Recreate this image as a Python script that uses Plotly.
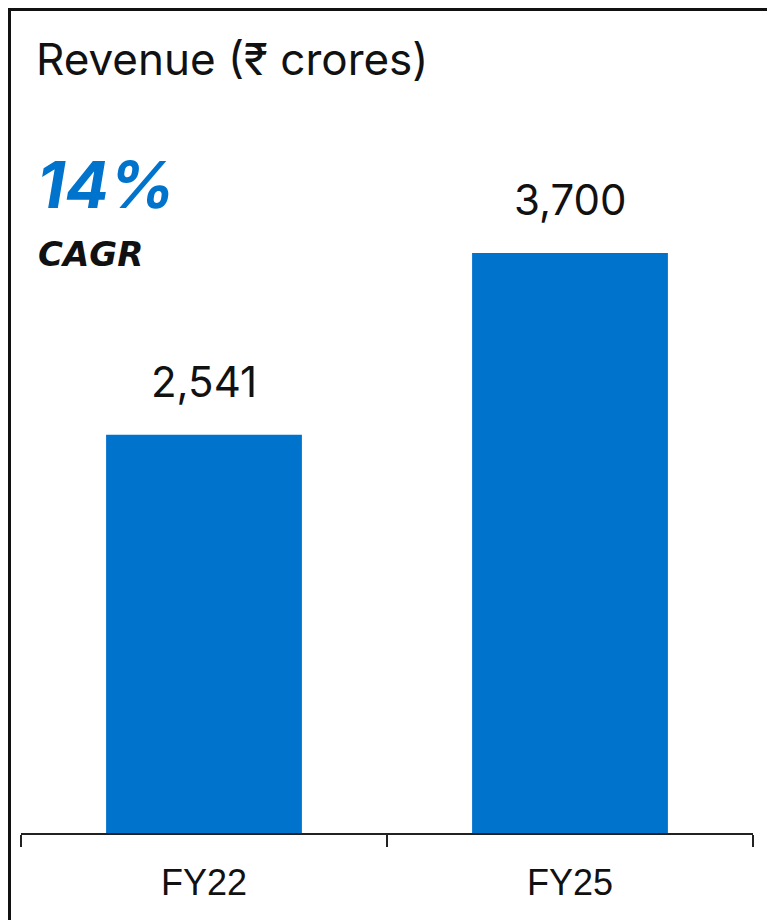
import plotly.graph_objects as go

categories = ["FY22", "FY25"]
revenue = [2541, 3700]
value_labels = ["2,541", "3,700"]
title_text = "Revenue (₹ crores)"
cagr_value = "14%"
cagr_label = "CAGR"

BLUE = "#0073CC"
INK = "#111111"
# page body adds an 8px offset; figure coords = screenshot coords - 8
W, H = 767, 912
L, R = 13, 22
plot_top, plot_bottom = 112, 825
B = H - plot_bottom
zero_px, top_px = 824, 244
px_per_unit = (zero_px - top_px) / 3700
ymax = (plot_bottom - plot_top) / px_per_unit


def px(fx):
    return (fx - L) / (W - L - R)


def py(fy):
    return (plot_bottom - fy) / (plot_bottom - plot_top)


fig = go.Figure(
    go.Bar(
        x=categories,
        y=revenue,
        marker=dict(color=BLUE, line=dict(width=0)),
        width=0.535,
        hoverinfo="skip",
    )
)

annotations = []
for c, v, lab in zip(categories, revenue, value_labels):
    annotations.append(dict(
        x=c, y=v, xref="x", yref="y", text=lab, showarrow=False,
        yanchor="bottom", xanchor="center", yshift=26,
        font=dict(family="Inter", size=42, color=INK),
    ))

annotations += [
    dict(x=px(26), y=py(51), xref="paper", yref="paper", text=title_text,
         showarrow=False, xanchor="left", yanchor="middle",
         font=dict(family="Inter", size=44, color=INK)),
    dict(x=px(27), y=py(176), xref="paper", yref="paper",
         text="<b><i>" + cagr_value + "</i></b>",
         showarrow=False, xanchor="left", yanchor="middle",
         font=dict(family="Inter", size=65, color=BLUE)),
    dict(x=px(28), y=py(246), xref="paper", yref="paper",
         text="<b><i>" + cagr_label + "</i></b>",
         showarrow=False, xanchor="left", yanchor="middle",
         font=dict(family="DejaVu Sans", size=34, color=INK)),
]

shapes = [
    dict(type="line", xref="paper", yref="paper", x0=px(0), x1=px(W),
         y0=py(1.5), y1=py(1.5), line=dict(color=INK, width=3)),
    dict(type="line", xref="paper", yref="paper", x0=px(1.5), x1=px(1.5),
         y0=py(0), y1=py(H), line=dict(color=INK, width=3)),
]

fig.update_layout(
    width=W, height=H,
    margin=dict(l=L, r=R, t=plot_top, b=B),
    paper_bgcolor="white", plot_bgcolor="white",
    showlegend=False,
    annotations=annotations,
    shapes=shapes,
    xaxis=dict(
        type="category", range=[-0.5, 1.5],
        showline=True, linecolor="#222222", linewidth=2,
        ticks="outside", tickson="boundaries", ticklen=12, tickwidth=2,
        tickcolor="#222222", ticklabelstandoff=17,
        tickfont=dict(family="Liberation Sans, Arial", size=36, color=INK),
        showgrid=False, zeroline=False,
    ),
    yaxis=dict(range=[0, ymax], visible=False, showgrid=False, zeroline=False),
)

fig.write_html("out.html")
